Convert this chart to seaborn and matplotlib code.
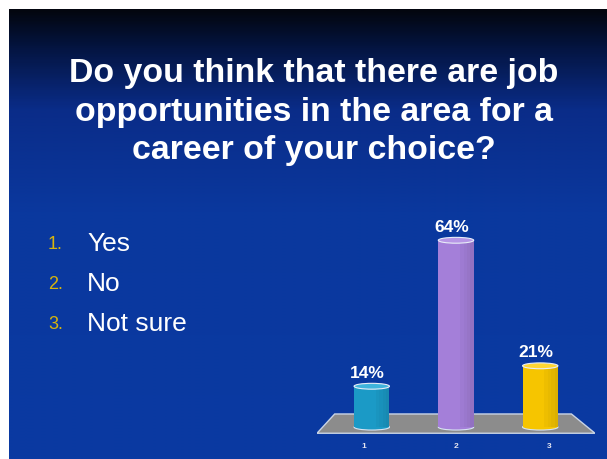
import numpy as np
import pandas as pd
import seaborn as sns
import matplotlib.pyplot as plt
from matplotlib.patches import Ellipse, Polygon
from matplotlib.colors import LinearSegmentedColormap

# Data
answers = ['Yes', 'No', 'Not sure']
tick_labels = ['1', '2', '3']
percent = [14, 64, 21]
bar_colors = ['#1b9ac6', '#a47fd9', '#f6c500']
cap_colors = ['#3fb4dc', '#b796e6', '#ffd633']

title = 'Do you think that there are job\nopportunities in the area for a\ncareer of your choice?'

sns.set_theme(style='white')
plt.rcParams['font.family'] = ['Liberation Sans', 'DejaVu Sans']

fig = plt.figure(figsize=(6.07, 4.6), dpi=100, facecolor='white')

# slide background: dark top fading into blue
bg = fig.add_axes([0, 0, 1, 1])
bg.set_xlim(0, 607)
bg.set_ylim(460, 0)
bg.axis('off')
cmap = LinearSegmentedColormap.from_list(
    'slide', [(0, '#03060f'), (0.08, '#04143f'), (0.22, '#0a2c88'), (0.45, '#0a389e'), (1, '#0a3aa2')])
grad = np.linspace(0, 1, 300).reshape(-1, 1)
bg.imshow(grad, cmap=cmap, aspect='auto', extent=(9, 607, 460, 10), zorder=0)

bg.text(314, 112, title, color='white', fontsize=24.4, fontweight='bold',
        ha='center', va='center', linespacing=1.3)

for i, a in enumerate(answers):
    y = 244 + i * 40
    bg.text(48, y + 1, f'{i + 1}.', color='#d6b40c', fontsize=13, va='center')
    bg.text(87, y, a, color='white', fontsize=19, va='center')

# chart axes
ax = fig.add_axes([317 / 607, 24 / 460, 278 / 607, 221 / 460])
ax.set_xlim(-0.65, 2.65)
ax.set_ylim(-2.7, 73)
ax.axis('off')

# grey floor
floor = Polygon([(-0.65, -2.1), (2.65, -2.1), (2.37, 4.5), (-0.44, 4.5)],
                closed=True, facecolor='#8c8c8c', edgecolor='#c9d4e6', lw=1.0, zorder=1)
ax.add_patch(floor)

df = pd.DataFrame({'answer': tick_labels, 'percent': percent})
sns.barplot(data=df, x='answer', y='percent', hue='answer', palette=bar_colors,
            width=0.42, legend=False, ax=ax, zorder=3, edgecolor='none', saturation=1)
ax.set_xlim(-0.65, 2.65)
ax.set_ylim(-2.7, 73)

for i, v in enumerate(percent):
    # softer darker right side of each cylinder
    for k, off in enumerate([0.06, 0.1, 0.14, 0.18]):
        ax.bar(i + off + 0.01, v, width=0.04, color='black', alpha=0.03 + 0.025 * k, zorder=3.5, lw=0)
    ax.add_patch(Ellipse((i, 0), 0.42, 2.0, facecolor=bar_colors[i], edgecolor='#d8e4f4', lw=0.8, zorder=2))
    ax.add_patch(Ellipse((i, v), 0.42, 2.0, facecolor=cap_colors[i], edgecolor='#e8eef8', lw=0.8, zorder=4))
    ax.text(i - 0.05, v + 4.8, f'{v}%', color='white', fontsize=12.5, fontweight='bold',
            ha='center', va='center')
    ax.text(i - 0.1 + 0.1 * i, -6.4, tick_labels[i], color='#e6e6f0', fontsize=6,
            fontweight='bold', ha='center', va='center', clip_on=False)

fig.savefig('out.png', dpi=100, facecolor='white')
